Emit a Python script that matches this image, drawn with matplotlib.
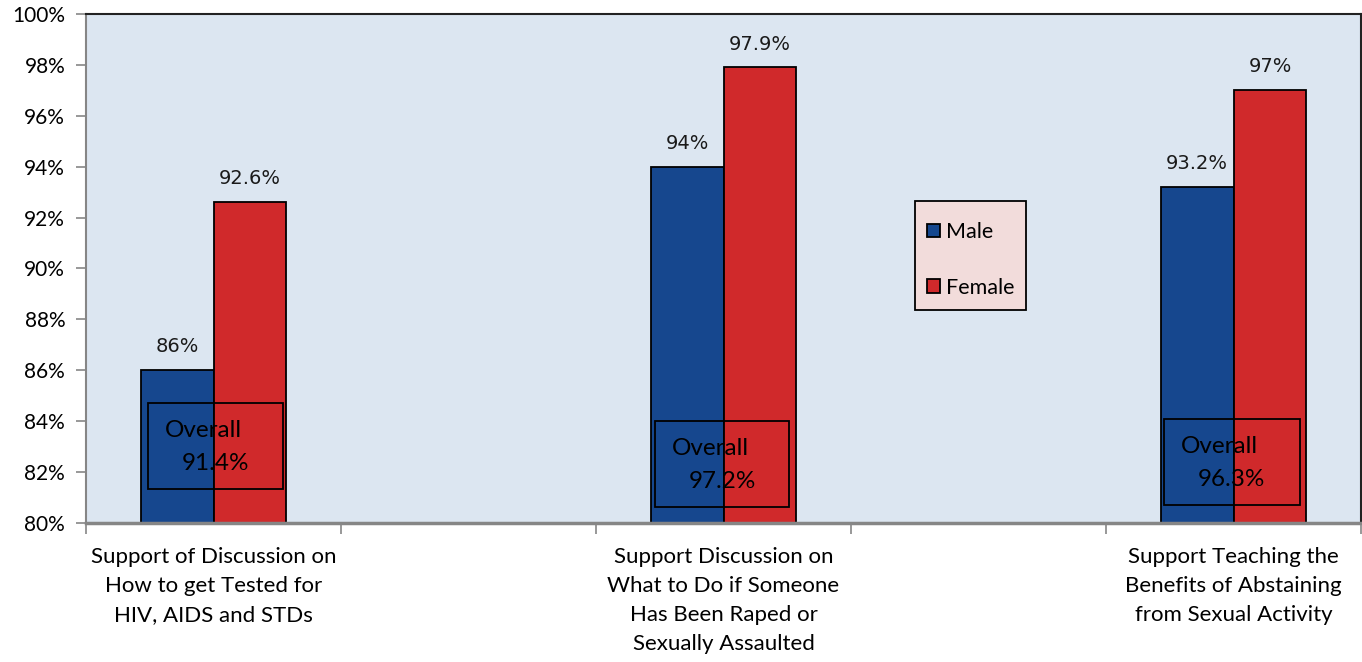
import matplotlib.pyplot as plt
import numpy as np

categories = [
    "Support of Discussion on\nHow to get Tested for\nHIV, AIDS and STDs",
    "",
    "Support Discussion on\nWhat to Do if Someone\nHas Been Raped or\nSexually Assaulted",
    "",
    "Support Teaching the\nBenefits of Abstaining\nfrom Sexual Activity",
]
male = [86.0, np.nan, 94.0, np.nan, 93.2]
female = [92.6, np.nan, 97.9, np.nan, 97.0]
overall = [91.4, None, 97.2, None, 96.3]
male_labels = ["86%", "", "94%", "", "93.2%"]
female_labels = ["92.6%", "", "97.9%", "", "97%"]
overall_labels = ["91.4%", "", "97.2%", "", "96.3%"]
yticks = [80, 82, 84, 86, 88, 90, 92, 94, 96, 98, 100]

BLUE = "#16478E"
RED = "#D0292B"
LABEL_FONT = ["Lato", "DejaVu Sans"]

fig = plt.figure(figsize=(13.62, 6.62), dpi=100)
ax = fig.add_axes([86 / 1362, 1 - 523 / 662, (1361 - 86) / 1362, (523 - 14) / 662])
ax.set_facecolor("#DCE6F1")

x = np.arange(len(categories))
w = 0.286
ax.bar(x - w / 2, male, w, color=BLUE, edgecolor="black", linewidth=1.3, label="Male", zorder=2)
ax.bar(x + w / 2, female, w, color=RED, edgecolor="black", linewidth=1.3, label="Female", zorder=2)

for i in x:
    if male_labels[i]:
        ax.annotate(male_labels[i], (i - w / 2, male[i]), xytext=(0, 10), textcoords="offset points",
                    ha="center", va="bottom", fontsize=14, color="#1a1a1a")
        ax.annotate(female_labels[i], (i + w / 2, female[i]), xytext=(0, 10), textcoords="offset points",
                    ha="center", va="bottom", fontsize=14, color="#1a1a1a")

# "Overall" boxes sitting over the bars
box_pos = {0: (148, 403, 283, 489), 2: (655, 421, 789, 507), 4: (1164, 419, 1300, 505)}
for i, (x0, y0, x1, y1) in box_pos.items():
    fx0, fx1 = x0 / 1362, x1 / 1362
    fy0, fy1 = 1 - y1 / 662, 1 - y0 / 662
    fig.patches.append(plt.Rectangle((fx0, fy0), fx1 - fx0, fy1 - fy0, transform=fig.transFigure,
                                     fill=False, edgecolor="black", linewidth=1.3, zorder=5))
    fig.text(fx0 + 0.0125, fy1 - 0.041, "Overall", family=LABEL_FONT, fontsize=17.5,
             ha="left", va="center", zorder=6)
    fig.text(fx0 + 0.0245, fy1 - 0.091, overall_labels[i], family=LABEL_FONT, fontsize=17.5,
             ha="left", va="center", zorder=6)

ax.set_ylim(80, 100)
ax.set_yticks(yticks)
ax.set_yticklabels([f"{t}%" for t in yticks], family=LABEL_FONT, fontsize=15)
ax.set_xlim(-0.5, len(categories) - 0.5)
ax.set_xticks(np.arange(len(categories) + 1) - 0.5)
ax.set_xticklabels([])
for i, lab in enumerate(categories):
    ax.text(i, -0.048, lab, transform=ax.get_xaxis_transform(), ha="center", va="top",
            family=LABEL_FONT, fontsize=16, linespacing=1.55)

ax.tick_params(axis="y", direction="out", length=7, color="#868686", width=1.2, pad=8)
ax.tick_params(axis="x", direction="out", length=8, color="#868686", width=1.2)
ax.spines["left"].set_color("#868686")
ax.spines["left"].set_linewidth(1.5)
ax.spines["bottom"].set_color("#868686")
ax.spines["bottom"].set_linewidth(2.5)
ax.spines["top"].set_color("#222222")
ax.spines["top"].set_linewidth(1.5)
ax.spines["right"].set_color("#222222")
ax.spines["right"].set_linewidth(1.5)

# legend: pink frame drawn separately, entries placed inside it
lx0, ly0, lx1, ly1 = 915, 201, 1026, 310
ax.add_patch(plt.Rectangle((lx0 / 1362, 1 - ly1 / 662), (lx1 - lx0) / 1362, (ly1 - ly0) / 662,
                           transform=fig.transFigure, facecolor="#F2DCDB", edgecolor="black",
                           linewidth=1.3, zorder=3))
leg = ax.legend(loc="upper left", bbox_to_anchor=((927 - 86) / 1275, 1 - (222 - 14) / 509),
                prop={"family": LABEL_FONT, "size": 15.5}, frameon=False,
                handlelength=0.6, handleheight=0.6, labelspacing=1.65, borderpad=0,
                handletextpad=0.3, borderaxespad=0)
leg.set_zorder(6)

fig.savefig("out.png", dpi=100)
